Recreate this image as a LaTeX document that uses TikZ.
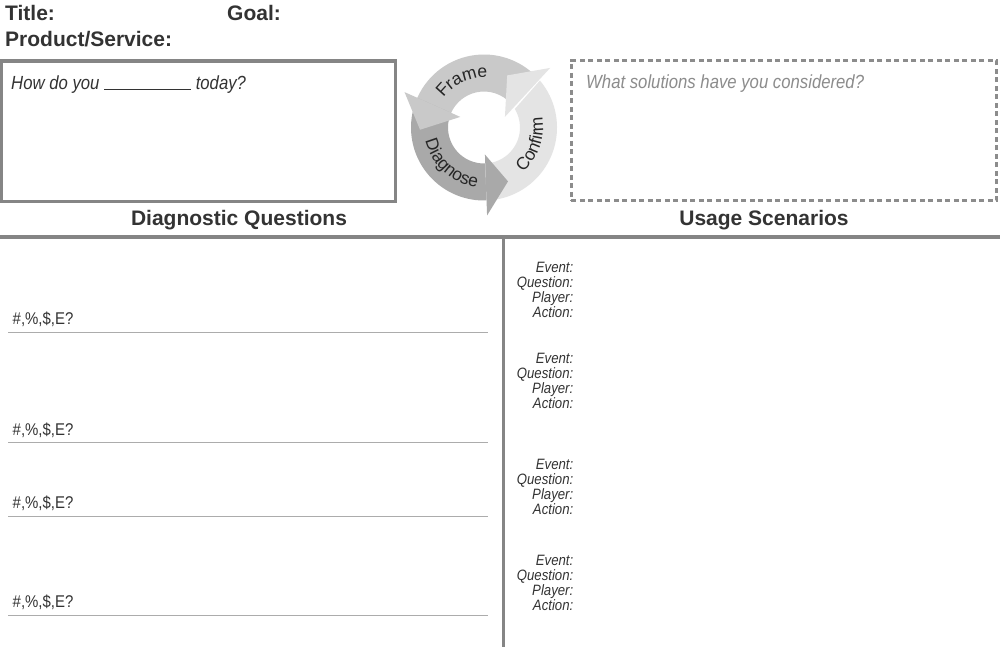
\documentclass[tikz,border=0pt]{standalone}
\usepackage{fontspec}
\setmainfont{Liberation Sans}
\newfontfamily\condfont[FakeStretch=0.88]{Liberation Sans}
\usetikzlibrary{decorations.text}
\definecolor{ink}{HTML}{333333}
\definecolor{cycink}{HTML}{262626}
\definecolor{frameline}{HTML}{858585}
\definecolor{ruleline}{HTML}{ACACAC}
\definecolor{framec}{HTML}{C9C9C9}
\definecolor{diagc}{HTML}{A9A9A9}
\definecolor{confc}{HTML}{E4E4E4}
\definecolor{hintc}{HTML}{8C8C8C}
\newcommand\cyclefont{\fontsize{17.5}{17.5}\selectfont}
\begin{document}
\begin{tikzpicture}[x=1pt,y=1pt,
  hdr/.style={anchor=base west, inner sep=0pt, text=ink, font=\fontsize{21}{21}\selectfont\bfseries},
  section/.style={anchor=base, inner sep=0pt, text=ink, font=\fontsize{21}{21}\selectfont\bfseries},
  prompt/.style={anchor=base west, inner sep=0pt, font=\condfont\itshape\fontsize{19}{19}\selectfont},
  metric/.style={anchor=base west, inner sep=0pt, text=ink, font=\condfont\fontsize{17}{17}\selectfont},
  sclabel/.style={anchor=base east, inner sep=0pt, text=ink, font=\condfont\itshape\fontsize{15}{15}\selectfont},
  answerline/.style={draw=ruleline, line width=1.3pt},
  divider/.style={draw=frameline, line width=3.6pt},
  solidbox/.style={draw=frameline, line width=3.3pt, anchor=north west, inner sep=0pt, outer sep=0pt},
  dashbox/.style={draw=hintc, line width=2.7pt, dash pattern=on 5pt off 3.5pt, anchor=north west, inner sep=0pt, outer sep=0pt},
  arclabel/.style={decorate, decoration={text along path, text align=center, text color=cycink}},
]
\fill[white] (0,-647) rectangle (1000,0);
\useasboundingbox (0,-647) rectangle (1000,0);

% header
\node[hdr] (title) at (5,-20.5) {Title:};
\node[hdr] (goal) at (227,-20.5) {Goal:};
\node[hdr] (product) at (5,-46.5) {Product/Service:};

% top boxes
\node[solidbox, minimum width=393.8pt, minimum height=140.7pt] (todaybox) at (1.7,-61) {};
\node[prompt, text=ink] (todaytext) at (11,-90) {How do you \rule{87pt}{0.9pt} today?};

\node[dashbox, minimum width=425.4pt, minimum height=140pt] (solbox) at (571.3,-60.7) {};
\node[prompt, text=hintc] (soltext) at (586,-89) {What solutions have you considered?};

% cycle
\begin{scope}[shift={(484,-127.5)}]
  % bodies
  \fill[framec] (42:36) arc[start angle=42, end angle=156, radius=36]
     -- (156:73) arc[start angle=156, end angle=42, radius=73] -- cycle;
  \fill[diagc] (156:36) arc[start angle=156, end angle=272, radius=36]
     -- (272:73) arc[start angle=272, end angle=156, radius=73] -- cycle;
  \fill[confc] (272:36) arc[start angle=272, end angle=391, radius=36]
     -- (400:73) arc[start angle=400, end angle=272, radius=73] -- cycle;
  % heads
  \fill[framec] (156:87) -- (156:26) -- (182:64) -- cycle;
  \fill[diagc] (-88:88) -- (-88:27) -- (-66:59) -- cycle;
  \fill[confc] (42:89) -- (27:23.5) -- (66:57) -- cycle;
  % labels
  \path[arclabel, decoration={text={|\cyclefont|Frame}}]
     (165:50) arc[start angle=165, end angle=65, radius=50];
  \path[arclabel, decoration={text={|\cyclefont|Diagnose}}]
     (178:60) arc[start angle=178, end angle=278, radius=60];
  \path[arclabel, decoration={text={|\cyclefont|Confirm}}]
     (-60:59) arc[start angle=-60, end angle=22, radius=59];
\end{scope}

% section titles
\node[section] (dq) at (239,-225) {Diagnostic Questions};
\node[section] (us) at (764,-225) {Usage Scenarios};

% dividers
\coordinate (hl) at (0,-237);
\coordinate (hr) at (1000,-237);
\coordinate (vt) at (503.3,-237);
\coordinate (vb) at (503.3,-647);
\draw[divider] (hl) -- (hr);
\draw[divider] (vt) -- (vb);

% diagnostic question rows
\foreach \i/\tb/\ly in {1/324/332.3, 2/435/442.7, 3/508.3/516.7, 4/607.3/615.3}{
  \node[metric] (metric\i) at (12.5,-\tb) {\#,\%,\$,E?};
  \coordinate (la\i) at (8.3,-\ly);
  \coordinate (lb\i) at (487.7,-\ly);
  \draw[answerline] (la\i) -- (lb\i);
}

% usage scenario labels
\foreach \g/\b in {1/272, 2/363, 3/469, 4/565}{
  \node[sclabel] (ev\g) at (573.5,-\b) {Event:};
  \node[sclabel] (qu\g) at (573.5,-\b-15.3) {Question:};
  \node[sclabel] (pl\g) at (573.5,-\b-30.6) {Player:};
  \node[sclabel] (ac\g) at (573.5,-\b-45.9) {Action:};
}
\end{tikzpicture}
\end{document}
